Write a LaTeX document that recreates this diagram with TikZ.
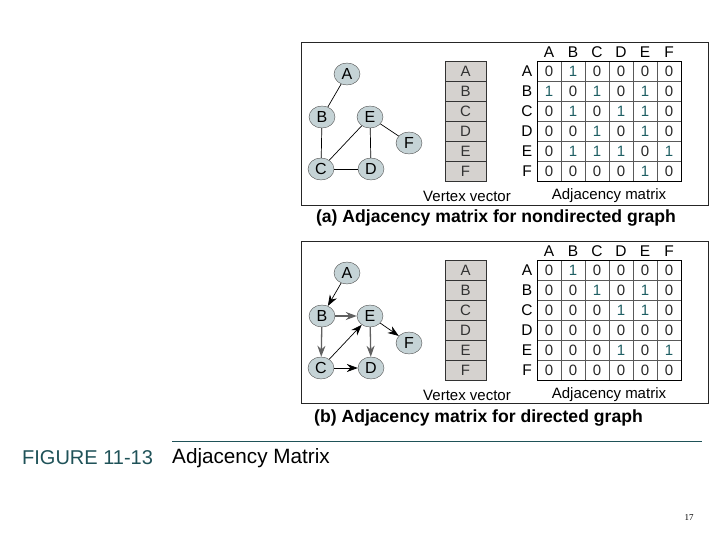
\documentclass[tikz,border=0pt]{standalone}
\usepackage{fontspec}
\setmainfont{Liberation Sans}
\newfontfamily\numfont{Liberation Serif}
\usetikzlibrary{arrows.meta,shapes.geometric}
\definecolor{nodefill}{HTML}{C5D3D6}
\definecolor{vecfill}{HTML}{D5D2CF}
\definecolor{oneteal}{HTML}{1E5E63}
\definecolor{figteal}{HTML}{1F5258}
\tikzset{
  vtx/.style={ellipse, draw=gray!60!black, fill=nodefill, minimum width=26pt, minimum height=22pt, inner sep=0pt, font=\fontsize{16}{16}\selectfont},
  vcell/.style={rectangle, draw=gray!40!black, fill=vecfill, minimum width=41pt, minimum height=20pt, inner sep=0pt, font=\fontsize{15}{15}\selectfont, text=black!80},
  mval/.style={inner sep=0pt, font=\fontsize{15}{15}\selectfont},
  hdr/.style={inner sep=0pt, font=\fontsize{15.5}{15.5}\selectfont},
  lbl/.style={inner sep=0pt, font=\fontsize{15}{15}\selectfont},
  captxt/.style={inner sep=0pt, font=\bfseries\fontsize{17.6}{18}\selectfont},
  framebox/.style={draw=black!85, line width=0.8pt},
  edge/.style={draw=black, line width=0.7pt},
  gedge/.style={draw=gray!75!black, line width=1.3pt},
  arr/.style={-{Stealth[length=11pt,width=8pt]}},
}
\begin{document}
\begin{tikzpicture}[x=1pt,y=-1pt]
\useasboundingbox (0,0) rectangle (720,540);

% frames
\draw[framebox] (301,42) rectangle (708,205);
\draw[framebox] (301,241) rectangle (708,403);

% ---------- graph (a) ----------
\node[vtx] (aA) at (347,74) {A};
\node[vtx] (aB) at (322,117) {B};
\node[vtx] (aE) at (370,117) {E};
\node[vtx] (aF) at (409,143) {F};
\node[vtx] (aC) at (321,169) {C};
\node[vtx] (aD) at (371,169) {D};
\draw[edge] (aA) -- (aB);
\draw[edge] (aB) -- (aC);
\draw[edge] (aC) -- (aE);
\draw[edge] (aC) -- (aD);
\draw[edge] (aE) -- (aD);
\draw[edge] (aE) -- (aF);

% ---------- graph (b) ----------
\node[vtx] (bA) at (347,273) {A};
\node[vtx] (bB) at (322,316) {B};
\node[vtx] (bE) at (370,316) {E};
\node[vtx] (bF) at (409,343) {F};
\node[vtx] (bC) at (321,368) {C};
\node[vtx] (bD) at (371,368) {D};
\draw[edge,arr] (bA) -- (bB);
\draw[gedge,arr] (bB) -- (bE);
\draw[gedge,arr] (bB) -- (bC);
\draw[edge,arr] (bC) -- (bE);
\draw[edge,arr] (bC) -- (bD);
\draw[gedge,arr] (bE) -- (bD);
\draw[edge,arr] (bE) -- (bF);

% ---------- vectors and matrices ----------
\foreach \p/\dy/\rows in {a/0/{{0,1,0,0,0,0},{1,0,1,0,1,0},{0,1,0,1,1,0},{0,0,1,0,1,0},{0,1,1,1,0,1},{0,0,0,0,1,0}},
                          b/199/{{0,1,0,0,0,0},{0,0,1,0,1,0},{0,0,0,1,1,0},{0,0,0,0,0,0},{0,0,0,1,0,1},{0,0,0,0,0,0}}} {
  \begin{scope}[shift={(0,\dy)}]
    % vertex vector
    \foreach \L [count=\i] in {A,B,C,D,E,F} {
      \node[vcell] (v\p\i) at (465.5,{61+20*(\i-0.5)}) {\L};
      \node[hdr] (r\p\i) at (527,{61+20*(\i-0.5)}) {\L};
      \node[hdr] (c\p\i) at ({537+24*(\i-0.5)},52) {\L};
    }
    % grid
    \foreach \k in {1,...,5} {
      \draw[gray!70!black, line width=0.6pt] ({537+24*\k},61) -- ({537+24*\k},181);
      \draw[gray!70!black, line width=0.8pt] (537,{61+20*\k}) -- (681,{61+20*\k});
    }
    \draw[black, line width=0.9pt] (537,61) rectangle (681,181);
    % values
    \foreach \row [count=\i] in \rows {
      \foreach \v [count=\j] in \row {
        \ifnum\v=1 \def\vc{oneteal}\else\def\vc{black!85}\fi
        \node[mval, text=\vc] (m\p\i\j) at ({537+24*(\j-0.5)},{61+20*(\i-0.5)}) {\v};
      }
    }
    \node[lbl] (vv\p) at (467,196) {Vertex vector};
    \node[lbl] (am\p) at (609,196) {Adjacency matrix};
  \end{scope}
}

% captions
\node[captxt] (capa) at (496,218) {(a) Adjacency matrix for nondirected graph};
\node[captxt] (capb) at (478.5,418) {(b) Adjacency matrix for directed graph};

% figure title
\draw[figteal, line width=1pt] (172,441) -- (702,441);
\node[anchor=west, inner sep=0pt, text=figteal, font=\fontsize{20}{20}\selectfont] (fig) at (22,458) {FIGURE 11-13};
\node[anchor=west, inner sep=0pt, font=\fontsize{20.7}{20.7}\selectfont] (ttl) at (172,458) {Adjacency Matrix};
\node[inner sep=0pt, font=\numfont\fontsize{9}{9}\selectfont] (pg) at (689,518) {17};
\end{tikzpicture}
\end{document}
